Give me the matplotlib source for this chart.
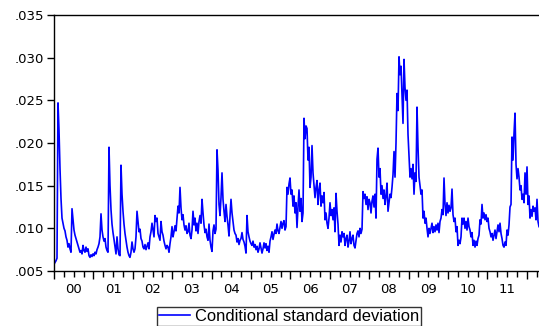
import numpy as np
import matplotlib
matplotlib.use("Agg")
import matplotlib.pyplot as plt
from matplotlib.ticker import FixedLocator, MultipleLocator, FuncFormatter

# Conditional standard deviation, read roughly every 9 days from Jan 2000 to Apr 2012
cond_sd = [
    .0058, .0060, .0062, .0065, .0247, .0215, .0170, .0135, .0112, .0106,
    .0100, .0097, .0090, .0086, .0078, .0082, .0076, .0072, .0123, .0110,
    .0098, .0092, .0088, .0084, .0080, .0076, .0072, .0074, .0070, .0080,
    .0074, .0072, .0078, .0073, .0076, .0068, .0066, .0069, .0067, .0070,
    .0068, .0072, .0070, .0075, .0078, .0082, .0090, .0117, .0098, .0090,
    .0085, .0088, .0078, .0074, .0072, .0195, .0150, .0122, .0105, .0095,
    .0087, .0078, .0070, .0090, .0076, .0069, .0068, .0174, .0140, .0120,
    .0105, .0094, .0086, .0078, .0072, .0068, .0066, .0072, .0084, .0076,
    .0072, .0076, .0090, .0120, .0108, .0096, .0099, .0088, .0085, .0078,
    .0076, .0081, .0075, .0079, .0083, .0076, .0090, .0096, .0106, .0098,
    .0090, .0115, .0108, .0112, .0094, .0090, .0086, .0108, .0096, .0092,
    .0085, .0080, .0076, .0080, .0078, .0072, .0082, .0090, .0102, .0090,
    .0096, .0103, .0097, .0112, .0126, .0118, .0148, .0124, .0110, .0116,
    .0104, .0098, .0103, .0094, .0096, .0106, .0092, .0088, .0098, .0120,
    .0104, .0112, .0097, .0106, .0094, .0108, .0115, .0106, .0134, .0118,
    .0104, .0095, .0099, .0090, .0086, .0105, .0086, .0078, .0073, .0097,
    .0104, .0094, .0099, .0192, .0168, .0128, .0115, .0136, .0165, .0134,
    .0120, .0108, .0128, .0114, .0104, .0091, .0114, .0134, .0118, .0108,
    .0098, .0094, .0092, .0084, .0088, .0081, .0086, .0088, .0095, .0087,
    .0084, .0079, .0071, .0115, .0096, .0090, .0085, .0082, .0080, .0085,
    .0078, .0081, .0075, .0079, .0072, .0076, .0083, .0077, .0071, .0076,
    .0083, .0077, .0082, .0074, .0079, .0072, .0085, .0090, .0096, .0087,
    .0093, .0098, .0094, .0105, .0097, .0094, .0101, .0108, .0100, .0106,
    .0109, .0098, .0102, .0148, .0140, .0152, .0159, .0140, .0145, .0126,
    .0138, .0118, .0130, .0101, .0125, .0145, .0120, .0135, .0108, .0118,
    .0229, .0205, .0220, .0217, .0180, .0195, .0148, .0160, .0197, .0165,
    .0150, .0136, .0148, .0156, .0128, .0145, .0153, .0126, .0138, .0130,
    .0142, .0110, .0118, .0106, .0100, .0112, .0130, .0115, .0122, .0110,
    .0124, .0096, .0141, .0120, .0105, .0080, .0092, .0084, .0096, .0090,
    .0094, .0080, .0088, .0092, .0078, .0085, .0096, .0082, .0088, .0092,
    .0080, .0077, .0086, .0094, .0097, .0090, .0100, .0094, .0099, .0143,
    .0135, .0140, .0128, .0137, .0122, .0134, .0130, .0118, .0132, .0138,
    .0125, .0140, .0112, .0181, .0194, .0160, .0170, .0140, .0150, .0135,
    .0145, .0128, .0138, .0153, .0120, .0130, .0140, .0136, .0148, .0163,
    .0190, .0160, .0200, .0258, .0238, .0301, .0280, .0290, .0255, .0223,
    .0298, .0265, .0250, .0262, .0210, .0185, .0160, .0170, .0158, .0175,
    .0140, .0165, .0155, .0242, .0195, .0160, .0150, .0140, .0145, .0112,
    .0120, .0106, .0112, .0100, .0090, .0100, .0094, .0100, .0106, .0095,
    .0102, .0096, .0104, .0098, .0106, .0095, .0108, .0112, .0122, .0116,
    .0159, .0128, .0115, .0130, .0118, .0127, .0120, .0124, .0146, .0116,
    .0108, .0112, .0096, .0102, .0080, .0086, .0082, .0090, .0112, .0105,
    .0112, .0100, .0108, .0098, .0112, .0102, .0098, .0090, .0095, .0080,
    .0086, .0078, .0085, .0080, .0088, .0092, .0110, .0105, .0128, .0112,
    .0118, .0110, .0116, .0108, .0112, .0100, .0096, .0090, .0094, .0086,
    .0092, .0098, .0088, .0096, .0104, .0096, .0106, .0094, .0088, .0080,
    .0078, .0084, .0080, .0098, .0092, .0104, .0125, .0128, .0207, .0180,
    .0211, .0235, .0175, .0158, .0170, .0160, .0145, .0150, .0134, .0140,
    .0130, .0165, .0140, .0172, .0128, .0138, .0112, .0122, .0114, .0126,
    .0120, .0124, .0110, .0134, .0108, .0102,
]
series_label = "Conditional standard deviation"
start_year, end_year = 2000.0, 2012.31
year_labels = ["00", "01", "02", "03", "04", "05", "06", "07", "08", "09", "10", "11"]
y_ticks = [.005, .010, .015, .020, .025, .030, .035]

t = np.linspace(start_year, end_year, len(cond_sd))

W, H = 539, 326
fig = plt.figure(figsize=(W / 100, H / 100), dpi=100)
left_px, right_px, top_px, bot_px = 54, 546.5, 15, 271
ax = fig.add_axes([left_px / W, (H - bot_px) / H, (right_px - left_px) / W, (bot_px - top_px) / H])

ax.plot(t, cond_sd, color="#0000FF", lw=1.2, label=series_label)

ax.set_xlim(2000.0, 2012.5)
ax.set_ylim(0.005, 0.035)

ax.spines["right"].set_visible(False)
for s in ["left", "top", "bottom"]:
    ax.spines[s].set_linewidth(1.0)
    ax.spines[s].set_color("black")

ax.yaxis.set_major_locator(FixedLocator(y_ticks))
ax.yaxis.set_major_formatter(FuncFormatter(lambda v, p: ("%.3f" % v)[1:]))
ax.tick_params(axis="y", direction="out", length=5, width=1, labelsize=9.5, pad=2)

ax.xaxis.set_major_locator(MultipleLocator(1.0))
ax.xaxis.set_minor_locator(MultipleLocator(0.25))
ax.xaxis.set_major_formatter(FuncFormatter(lambda v, p: ""))
ax.tick_params(axis="x", which="major", direction="out", length=6, width=1)
ax.tick_params(axis="x", which="minor", direction="out", length=4, width=1)

for i, lab in enumerate(year_labels):
    ax.text(2000.5 + i, -0.045, lab, transform=ax.get_xaxis_transform(),
            ha="center", va="top", fontsize=9.5, family="DejaVu Sans")

leg = fig.legend(loc="center", bbox_to_anchor=(289 / W, 1 - 316.5 / H),
                 prop={"family": "Liberation Sans", "size": 11.9},
                 frameon=True, fancybox=False, edgecolor="black",
                 handlelength=1.9, handletextpad=0.3, borderpad=0.1,
                 borderaxespad=0)
leg.get_frame().set_linewidth(1.0)

fig.savefig("out.png", dpi=100)
